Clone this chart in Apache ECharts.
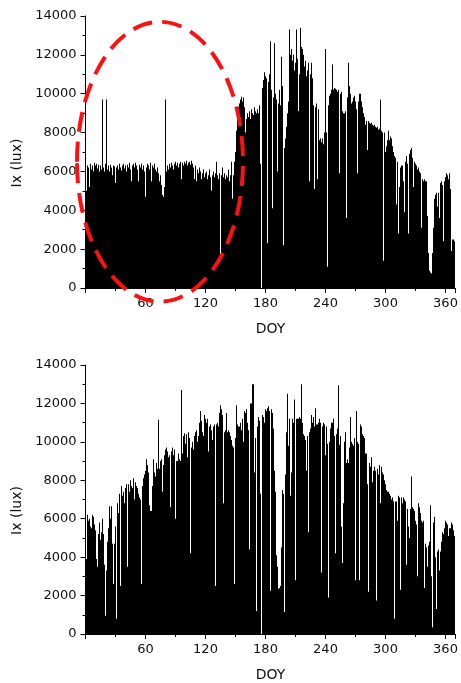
<!DOCTYPE html>
<html>
<head>
<meta charset="utf-8">
<title>Ix (lux) by DOY</title>
<script src="https://cdn.jsdelivr.net/npm/echarts@6/dist/echarts.min.js"></script>
<style>
  html, body { margin: 0; padding: 0; background: #fff; }
  #chart { width: 461px; height: 683px; }
</style>
</head>
<body>
<div id="chart"></div>
<script>
// Daily illuminance, upper panel (DOY 1-369)
const ixUpper = [
  5000, 6300, 6200, 5200, 6400, 6100, 6300, 6000, 6450, 6300,
  6400, 6150, 6350, 6000, 6300, 6100, 9700, 6200, 6000, 6400,
  9700, 6100, 6300, 6000, 6350, 6200, 5800, 6300, 6250, 5400,
  6200, 6300, 6100, 6400, 6200, 6050, 6300, 6400, 6150, 6300,
  6000, 6350, 6200, 6450, 6100, 5500, 6300, 6400, 6200, 6450,
  6300, 6100, 5500, 6350, 6200, 6400, 6100, 6300, 6000, 4700,
  6200, 6400, 6300, 6100, 6450, 5500, 6300, 6200, 6400, 6100,
  6000, 6200, 5900, 5500, 5800, 5300, 4800, 4700, 5200, 9700,
  6000, 6300, 6100, 6400, 6200, 6450, 6300, 6100, 6400, 6500,
  6300, 6450, 6200, 6400, 6500, 5600, 6450, 6300, 6500, 6400,
  6550, 6300, 6450, 6500, 6350, 6550, 6400, 6200, 5600, 6300,
  5500, 6100, 5900, 6200, 6000, 5600, 5900, 6100, 5700, 5900,
  6000, 5600, 5800, 6100, 5700, 5000, 5800, 6000, 5700, 5900,
  6500, 5800, 5600, 5900, 1700, 5800, 6200, 5700, 5900, 5600,
  5800, 5700, 6100, 5500, 5800, 6500, 4600, 5800, 6500, 7000,
  8100, 8700, 9300, 9500, 9700, 9850, 9600, 9800, 9300, 8000,
  8700, 9000, 8800, 9100, 8700, 9200, 9000, 8900, 9300, 9100,
  9000, 9200, 9000, 9400, 6400, 0, 10300, 10700, 11100, 10900,
  10800, 2300, 10600, 11000, 12700, 10200, 4100, 9800, 12600, 10000,
  9700, 6000, 9500, 10200, 9400, 11900, 10400, 2200, 7200, 7700,
  8300, 9000, 9600, 13300, 12000, 12300, 11700, 12000, 11200, 11600,
  13300, 11800, 9100, 11000, 13400, 12400, 12300, 12000, 11400, 11700,
  10900, 11200, 11600, 5500, 11000, 11600, 10800, 9400, 5100, 9300,
  9500, 5600, 9200, 7600, 7700, 7500, 7700, 7400, 8000, 12300,
  8000, 1100, 9400, 9900, 10000, 10200, 11500, 10200, 10300, 10250,
  10200, 10100, 10200, 5900, 10000, 10100, 9100, 9000, 9000, 9100,
  3600, 9800, 11600, 10400, 10000, 9500, 9600, 9800, 9900, 9600,
  9200, 5900, 9600, 10000, 10000, 9600, 9300, 9000, 8800, 8400,
  8600, 7100, 8600, 8500, 8450, 8500, 8400, 8350, 8400, 8300,
  8250, 8300, 8150, 8200, 9700, 8100, 8000, 1400, 8000, 7000,
  7300, 7600, 8100, 7600, 7800, 7700, 7300, 7000, 6800, 6700,
  4300, 6500, 2800, 5200, 6200, 6300, 6300, 5500, 3900, 6500,
  6800, 6400, 2800, 6900, 7100, 7200, 6700, 5200, 6500, 6400,
  6300, 6100, 6200, 6000, 5900, 3100, 5600, 5500, 5600, 5500,
  5500, 3700, 1800, 900, 800, 750, 1800, 3100, 4600, 4800,
  4900, 4200, 4900, 3600, 5400, 5500, 5300, 2400, 5500, 5700,
  5900, 5800, 5600, 5900, 5100, 1900, 2500, 2500, 2400
];

// Daily illuminance, lower panel (DOY 1-369)
const ixLower = [
  3900, 6200, 5900, 6000, 5600, 5500, 6200, 6100, 5700, 5400,
  3900, 3500, 5200, 5800, 4900, 5300, 6000, 5200, 3600, 950,
  3300, 4800, 5500, 6650, 6000, 6650, 4700, 2600, 4700, 5600,
  800, 6800, 6300, 7300, 2500, 7700, 7200, 7400, 6800, 7600,
  7800, 3500, 7800, 7400, 8000, 7700, 7600, 8100, 7000, 7900,
  7700, 7600, 7300, 7100, 7000, 2600, 7700, 8100, 8300, 8500,
  9100, 8800, 8400, 6700, 6400, 6400, 7700, 9100, 8400, 8200,
  8900, 8600, 11150, 8600, 9000, 9100, 7400, 8800, 9300, 9600,
  9700, 9500, 9200, 9300, 6600, 9500, 9700, 9300, 9600, 6000,
  9000, 9000, 9400, 9100, 9000, 12700, 9400, 10300, 10450, 9900,
  10400, 9200, 10500, 10200, 4200, 9700, 10000, 9600, 10300, 10500,
  10600, 10000, 10300, 11000, 11600, 11100, 10500, 10300, 11400, 11200,
  11000, 11200, 9500, 10800, 10900, 10600, 10100, 10800, 10900, 2500,
  10900, 11000, 10800, 11500, 11900, 11700, 11400, 6800, 10500, 10600,
  11500, 10500, 10600, 10500, 10300, 10100, 9800, 9700, 2600, 10200,
  11900, 10900, 10800, 10800, 11000, 10600, 11200, 10000, 11600, 11500,
  11700, 11000, 10600, 4400, 12000, 12000, 13000, 13000, 8400, 10200,
  1200, 10800, 11300, 11100, 7300, 0, 11400, 11300, 11000, 11700,
  11600, 11750, 11850, 11600, 2250, 11700, 11500, 10700, 8500, 7400,
  4100, 3500, 2350, 2400, 2500, 4500, 7500, 7300, 1150, 8300,
  10500, 12500, 9800, 11200, 7200, 8400, 11200, 11000, 12200, 2800,
  11200, 11200, 11200, 11300, 11200, 13000, 11000, 10400, 10300, 10100,
  8500, 10300, 5300, 10500, 10700, 11400, 11000, 11300, 10800, 11750,
  10900, 10900, 11000, 11200, 11000, 3200, 10800, 11000, 10900, 9300,
  10800, 9900, 1900, 10000, 10700, 11000, 11000, 11200, 10300, 4200,
  10400, 10700, 12950, 9850, 10300, 5600, 3700, 6800, 10000, 10500,
  8900, 9100, 8900, 9700, 11300, 10000, 9900, 9800, 10200, 2800,
  11600, 10000, 9900, 2800, 10900, 10800, 10400, 10300, 10200, 9400,
  9400, 7800, 2200, 8900, 8700, 9200, 7900, 8500, 8700, 8500,
  1750, 8600, 8300, 8800, 6800, 8700, 8400, 8300, 8000, 7800,
  7500, 7400, 7400, 7300, 7200, 7000, 7100, 6900, 800, 6900,
  6900, 5900, 7200, 7100, 2300, 7100, 6800, 7100, 7000, 6900,
  3600, 6500, 5600, 5000, 6500, 8200, 6600, 6500, 6400, 5900,
  5700, 3000, 6800, 6600, 6300, 5900, 5800, 5900, 2400, 4700,
  4500, 3500, 4600, 4800, 6700, 3000, 350, 5800, 6100, 4000,
  1300, 4300, 4400, 3300, 4300, 4800, 5300, 5200, 5500, 5900,
  5800, 5700, 5100, 5500, 5500, 5800, 5700, 5400, 5100
];

// Axis settings
const doyMin = 0, doyMax = 370, doyStep = 60;
const ixMin = 0, ixMax = 14000, ixStep = 2000;

// Highlighted period on the upper panel (centre in DOY / lux, half extents)
const highlight = { doy: 74.5, lux: 6500, halfDoy: 83, halfLux: 7200 };

const FONT = 'DejaVu Sans';

const toPairs = arr => arr.map((v, i) => [i + 1, v]);

function xAxisFor(gridIndex) {
  return {
    type: 'value', gridIndex,
    min: doyMin, max: doyMax, interval: doyStep,
    name: 'DOY', nameLocation: 'middle', nameGap: 34,
    nameTextStyle: { fontFamily: FONT, fontSize: 14, color: '#111' },
    axisLine: { show: true, lineStyle: { color: '#000', width: 1 } },
    axisTick: { show: true, length: 5, lineStyle: { color: '#000' } },
    minorTick: { show: true, splitNumber: 2, length: 3, lineStyle: { color: '#000' } },
    axisLabel: {
      margin: 9, fontFamily: FONT, fontSize: 13, color: '#111',
      formatter: v => (v > 0 && v % doyStep === 0) ? String(v) : ''
    },
    splitLine: { show: false }
  };
}

function yAxisFor(gridIndex) {
  return {
    type: 'value', gridIndex,
    min: ixMin, max: ixMax, interval: ixStep,
    name: 'Ix (lux)', nameLocation: 'middle', nameGap: 60,
    nameTextStyle: { fontFamily: FONT, fontSize: 14, color: '#111', padding: [0, 22, 0, 0] },
    axisLine: { show: true, lineStyle: { color: '#000', width: 1 } },
    axisTick: { show: true, length: 5, lineStyle: { color: '#000' } },
    minorTick: { show: true, splitNumber: 2, length: 3, lineStyle: { color: '#000' } },
    axisLabel: {
      margin: 9, fontFamily: FONT, fontSize: 13, color: '#111',
      formatter: v => String(v)
    },
    splitLine: { show: false }
  };
}

// One-day-wide columns; edges snapped to whole pixels so that
// neighbouring days join without seams.
function dayColumns(idx, values) {
  return {
    type: 'custom', xAxisIndex: idx, yAxisIndex: idx,
    data: toPairs(values),
    encode: { x: 0, y: 1 },
    silent: true,
    renderItem: (params, api) => {
      const day = api.value(0), val = api.value(1);
      const topLeft = api.coord([day - 0.5, val]);
      const baseRight = api.coord([day + 0.5, 0]);
      const x0 = Math.round(topLeft[0]);
      const x1 = Math.round(baseRight[0]);
      return {
        type: 'rect',
        shape: { x: x0, y: topLeft[1], width: x1 - x0, height: baseRight[1] - topLeft[1] },
        style: { fill: '#000' }
      };
    }
  };
}

const chart = echarts.init(document.getElementById('chart'), null, { renderer: 'canvas' });

chart.setOption({
  animation: false,
  backgroundColor: '#fff',
  grid: [
    { left: 85.5, top: 16, width: 370, height: 272 },
    { left: 85.5, top: 365, width: 370, height: 270 }
  ],
  xAxis: [xAxisFor(0), xAxisFor(1)],
  yAxis: [yAxisFor(0), yAxisFor(1)],
  series: [dayColumns(0, ixUpper), dayColumns(1, ixLower)]
});

// Dashed ellipse around the highlighted period, placed through the axes
const c = chart.convertToPixel({ gridIndex: 0 }, [highlight.doy, highlight.lux]);
const e = chart.convertToPixel({ gridIndex: 0 }, [highlight.doy + highlight.halfDoy, highlight.lux + highlight.halfLux]);
chart.setOption({
  graphic: [{
    type: 'ellipse', z: 100, silent: true,
    shape: { cx: c[0], cy: c[1], rx: Math.abs(e[0] - c[0]), ry: Math.abs(c[1] - e[1]) },
    style: { fill: 'none', stroke: '#ff1010', lineWidth: 4, lineDash: [20, 10] }
  }]
});
</script>
</body>
</html>
